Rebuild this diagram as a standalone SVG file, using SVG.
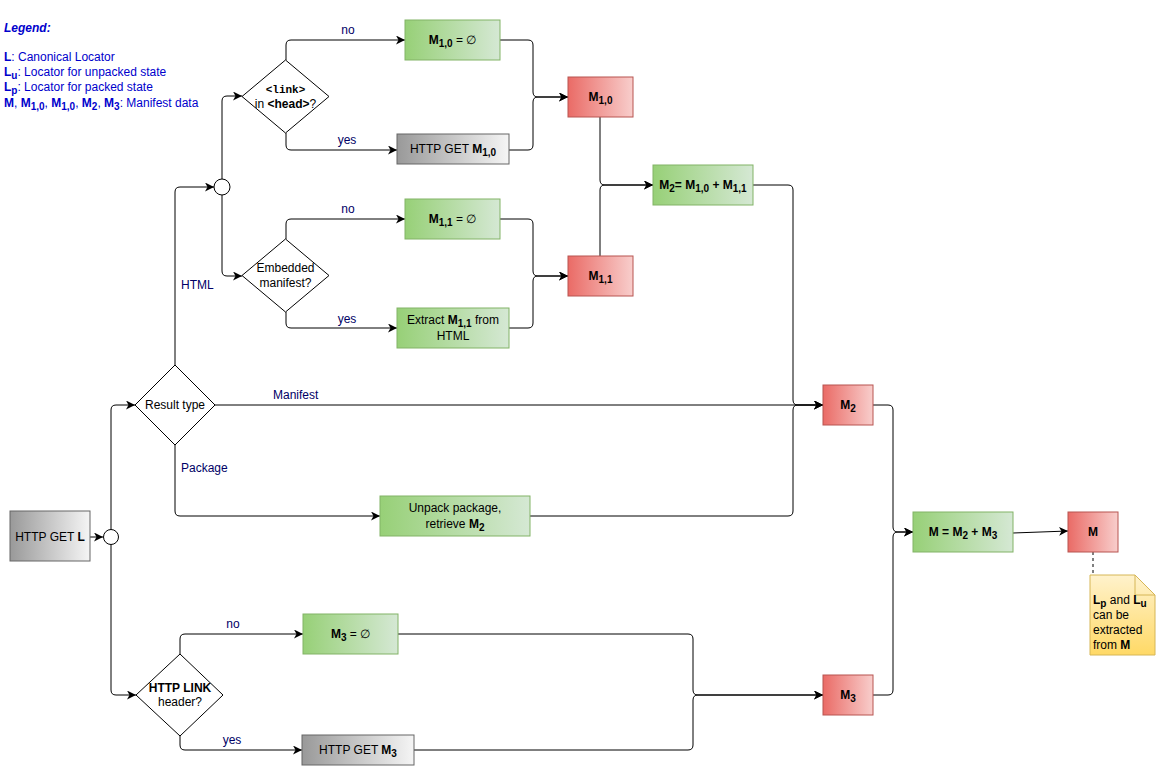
<svg xmlns="http://www.w3.org/2000/svg" width="1157" height="767" viewBox="0 0 1157 767">
<defs>
<linearGradient id="gGreen" x1="0" y1="0" x2="1" y2="0"><stop offset="0" stop-color="#97d077"/><stop offset="1" stop-color="#d5e8d4"/></linearGradient>
<linearGradient id="gRed" x1="0" y1="0" x2="1" y2="0"><stop offset="0" stop-color="#ea6b66"/><stop offset="1" stop-color="#f8cecc"/></linearGradient>
<linearGradient id="gGray" x1="0" y1="0" x2="1" y2="0"><stop offset="0" stop-color="#999999"/><stop offset="1" stop-color="#f5f5f5"/></linearGradient>
<linearGradient id="gNote" x1="0" y1="0" x2="0" y2="1"><stop offset="0" stop-color="#fff2cc"/><stop offset="1" stop-color="#ffd966"/></linearGradient>
<marker id="arr" markerUnits="userSpaceOnUse" markerWidth="10" markerHeight="10" refX="9" refY="4.5" orient="auto"><path d="M0,0 L9,4.5 L0,9 L2.5,4.5 Z" fill="#000"/></marker>
<style>
text{font-family:"Liberation Sans",Arial,sans-serif;font-size:12px;fill:#000}
.b{font-weight:bold}
.green{fill:url(#gGreen);stroke:#82b366}
.red{fill:url(#gRed);stroke:#b85450}
.gray{fill:url(#gGray);stroke:#666666}
.dia{fill:#fff;stroke:#000}
.edge path{fill:none;stroke:#000;stroke-width:1;marker-end:url(#arr)}
.lbl{font-size:12px;fill:#000066}
.leg{font-size:12px;fill:#0000cc}
.mono{font-family:"Liberation Mono","Courier New",monospace;font-weight:bold;font-size:11px}
</style>
</defs>
<rect width="1157" height="767" fill="#fff"/>

<g id="legend">
<text x="4" y="32" class="leg b" style="font-style:italic">Legend:</text>
<text x="4" y="61" class="leg"><tspan class="b">L</tspan>: Canonical Locator</text>
<text x="4" y="76" class="leg"><tspan class="b">L</tspan><tspan class="b" font-size="10" dy="3">u</tspan><tspan dy="-3">: Locator for unpacked state</tspan></text>
<text x="4" y="91" class="leg"><tspan class="b">L</tspan><tspan class="b" font-size="10" dy="3">p</tspan><tspan dy="-3">: Locator for packed state</tspan></text>
<text x="4" y="107" class="leg"><tspan class="b">M</tspan>, <tspan class="b">M</tspan><tspan class="b" font-size="10" dy="3">1,0</tspan><tspan dy="-3">, </tspan><tspan class="b">M</tspan><tspan class="b" font-size="10" dy="3">1,0</tspan><tspan dy="-3">, </tspan><tspan class="b">M</tspan><tspan class="b" font-size="10" dy="3">2</tspan><tspan dy="-3">, </tspan><tspan class="b">M</tspan><tspan class="b" font-size="10" dy="3">3</tspan><tspan dy="-3">: Manifest data</tspan></text>
</g>

<g id="connectors" class="edge">
<path d="M90,537 H103"/>
<path d="M111,529.5 V410 Q111,405 116,405 H135"/>
<path d="M111,544.5 V690 Q111,695 116,695 H136"/>
<path d="M175,365 V192 Q175,187 180,187 H214"/>
<path d="M222,179 V101 Q222,96 227,96 H242"/>
<path d="M222,195 V271 Q222,276 227,276 H242"/>
<path d="M175,445 V511 Q175,516 180,516 H380"/>
<path d="M215,405 H823"/>
<path d="M286,60 V45 Q286,40 291,40 H405"/>
<path d="M286,133 V145 Q286,150 291,150 H397"/>
<path d="M286,239 V224 Q286,219 291,219 H405"/>
<path d="M286,312 V323 Q286,328 291,328 H397"/>
<path d="M500,40 H528 Q533,40 533,45 V92 Q533,97 538,97 H568"/>
<path d="M509,150 H528 Q533,150 533,145 V102 Q533,97 538,97 H568"/>
<path d="M500,219 H528 Q533,219 533,224 V271 Q533,276 538,276 H568"/>
<path d="M509,328 H528 Q533,328 533,323 V281 Q533,276 538,276 H568"/>
<path d="M600,117 V180 Q600,185 605,185 H653"/>
<path d="M600,256 V190 Q600,185 605,185 H653"/>
<path d="M753,185 H788 Q793,185 793,190 V400 Q793,405 798,405 H823"/>
<path d="M530,516 H788 Q793,516 793,511 V410 Q793,405 798,405 H823"/>
<path d="M873,405 H888 Q893,405 893,410 V527 Q893,532 898,532 H913"/>
<path d="M873,695 H888 Q893,695 893,690 V537 Q893,532 898,532 H913"/>
<path d="M1013,533 L1068,531"/>
<path d="M180,654 V639 Q180,634 185,634 H303"/>
<path d="M180,735 V745 Q180,750 185,750 H302"/>
<path d="M398,634 H688 Q693,634 693,639 V690 Q693,695 698,695 H823"/>
<path d="M414,750 H688 Q693,750 693,745 V700 Q693,695 698,695 H823"/>
<path d="M1093,552 V575" style="stroke-dasharray:3,3;marker-end:none"/>
</g>

<g id="labels">
<text x="348" y="34" class="lbl" text-anchor="middle">no</text>
<text x="347" y="144" class="lbl" text-anchor="middle">yes</text>
<text x="348" y="213" class="lbl" text-anchor="middle">no</text>
<text x="347" y="323" class="lbl" text-anchor="middle">yes</text>
<text x="273" y="399" class="lbl">Manifest</text>
<text x="181" y="289" class="lbl">HTML</text>
<text x="181" y="472" class="lbl">Package</text>
<text x="233" y="628" class="lbl" text-anchor="middle">no</text>
<text x="232" y="744" class="lbl" text-anchor="middle">yes</text>
</g>

<g id="http-get-l"><rect x="10" y="511" width="80" height="50" class="gray"/><text x="50" y="541" text-anchor="middle">HTTP GET <tspan class="b">L</tspan></text></g>
<g id="junction1"><circle cx="111" cy="537" r="7.5" fill="#fff" stroke="#000"/></g>
<g id="junction2"><circle cx="222" cy="187" r="8" fill="#fff" stroke="#000"/></g>

<g id="result-type"><polygon points="175,365 215,405 175,445 135,405" class="dia"/><text x="175" y="409" text-anchor="middle">Result type</text></g>

<g id="link-in-head"><polygon points="285.5,60 329,96.5 285.5,133 242,96.5" class="dia"/>
<text x="285.5" y="93" text-anchor="middle" class="mono">&lt;link&gt;</text>
<text x="285.5" y="108" text-anchor="middle">in <tspan class="b">&lt;head&gt;</tspan>?</text></g>

<g id="embedded-manifest"><polygon points="285.5,239 329,275.5 285.5,312 242,275.5" class="dia"/>
<text x="285.5" y="272" text-anchor="middle">Embedded</text>
<text x="285.5" y="287" text-anchor="middle">manifest?</text></g>

<g id="http-link-header"><polygon points="180,654 223,695 180,736 136,695" class="dia"/>
<text x="180" y="692" text-anchor="middle" class="b">HTTP LINK</text>
<text x="180" y="706" text-anchor="middle">header?</text></g>

<g id="m10-empty"><rect x="405" y="20" width="95" height="40" class="green"/><text x="452.5" y="44" text-anchor="middle"><tspan class="b">M</tspan><tspan class="b" font-size="10" dy="3">1,0</tspan><tspan dy="-3"> = ∅</tspan></text></g>
<g id="http-get-m10"><rect x="397" y="134" width="112" height="30" class="gray"/><text x="453" y="153" text-anchor="middle">HTTP GET <tspan class="b">M</tspan><tspan class="b" font-size="10" dy="3">1,0</tspan></text></g>
<g id="m11-empty"><rect x="405" y="199" width="95" height="40" class="green"/><text x="452.5" y="223" text-anchor="middle"><tspan class="b">M</tspan><tspan class="b" font-size="10" dy="3">1,1</tspan><tspan dy="-3"> = ∅</tspan></text></g>
<g id="extract-m11"><rect x="397" y="308" width="112" height="40" class="green"/>
<text x="453" y="324" text-anchor="middle">Extract <tspan class="b">M</tspan><tspan class="b" font-size="10" dy="3">1,1</tspan><tspan dy="-3"> from</tspan></text>
<text x="453" y="340" text-anchor="middle">HTML</text></g>

<g id="m10"><rect x="568" y="77" width="65" height="40" class="red"/><text x="600.5" y="101" text-anchor="middle" class="b">M<tspan font-size="10" dy="3">1,0</tspan></text></g>
<g id="m11"><rect x="568" y="256" width="65" height="40" class="red"/><text x="600.5" y="280" text-anchor="middle" class="b">M<tspan font-size="10" dy="3">1,1</tspan></text></g>
<g id="m2-sum"><rect x="653" y="165" width="100" height="40" class="green"/><text x="703" y="189" text-anchor="middle" class="b">M<tspan font-size="10" dy="3">2</tspan><tspan dy="-3">= M</tspan><tspan font-size="10" dy="3">1,0</tspan><tspan dy="-3"> + M</tspan><tspan font-size="10" dy="3">1,1</tspan></text></g>

<g id="unpack"><rect x="380" y="496" width="150" height="40" class="green"/>
<text x="455" y="512" text-anchor="middle">Unpack package,</text>
<text x="455" y="528" text-anchor="middle">retrieve <tspan class="b">M</tspan><tspan class="b" font-size="10" dy="3">2</tspan></text></g>

<g id="m2"><rect x="823" y="385" width="50" height="40" class="red"/><text x="848" y="409" text-anchor="middle" class="b">M<tspan font-size="10" dy="3">2</tspan></text></g>

<g id="m3-empty"><rect x="303" y="614" width="95" height="40" class="green"/><text x="350.5" y="638" text-anchor="middle"><tspan class="b">M</tspan><tspan class="b" font-size="10" dy="3">3</tspan><tspan dy="-3"> = ∅</tspan></text></g>
<g id="http-get-m3"><rect x="302" y="735" width="112" height="30" class="gray"/><text x="358" y="754" text-anchor="middle">HTTP GET <tspan class="b">M</tspan><tspan class="b" font-size="10" dy="3">3</tspan></text></g>
<g id="m3"><rect x="823" y="675" width="50" height="40" class="red"/><text x="848" y="699" text-anchor="middle" class="b">M<tspan font-size="10" dy="3">3</tspan></text></g>

<g id="m-sum"><rect x="913" y="512" width="100" height="40" class="green"/><text x="963" y="536" text-anchor="middle" class="b">M = M<tspan font-size="10" dy="3">2</tspan><tspan dy="-3"> + M</tspan><tspan font-size="10" dy="3">3</tspan></text></g>
<g id="m"><rect x="1068" y="512" width="50" height="40" class="red"/><text x="1093" y="536" text-anchor="middle" class="b">M</text></g>

<g id="note"><path d="M1090,575 H1135 L1155,595 V655 H1090 Z" fill="url(#gNote)" stroke="#d6b656"/>
<path d="M1135,575 V595 H1155" fill="none" stroke="#d6b656"/>
<text x="1093" y="604"><tspan class="b">L</tspan><tspan class="b" font-size="10" dy="3">p</tspan><tspan dy="-3"> and </tspan><tspan class="b">L</tspan><tspan class="b" font-size="10" dy="3">u</tspan></text>
<text x="1093" y="619">can be</text>
<text x="1093" y="634">extracted</text>
<text x="1093" y="649">from <tspan class="b">M</tspan></text></g>
</svg>
